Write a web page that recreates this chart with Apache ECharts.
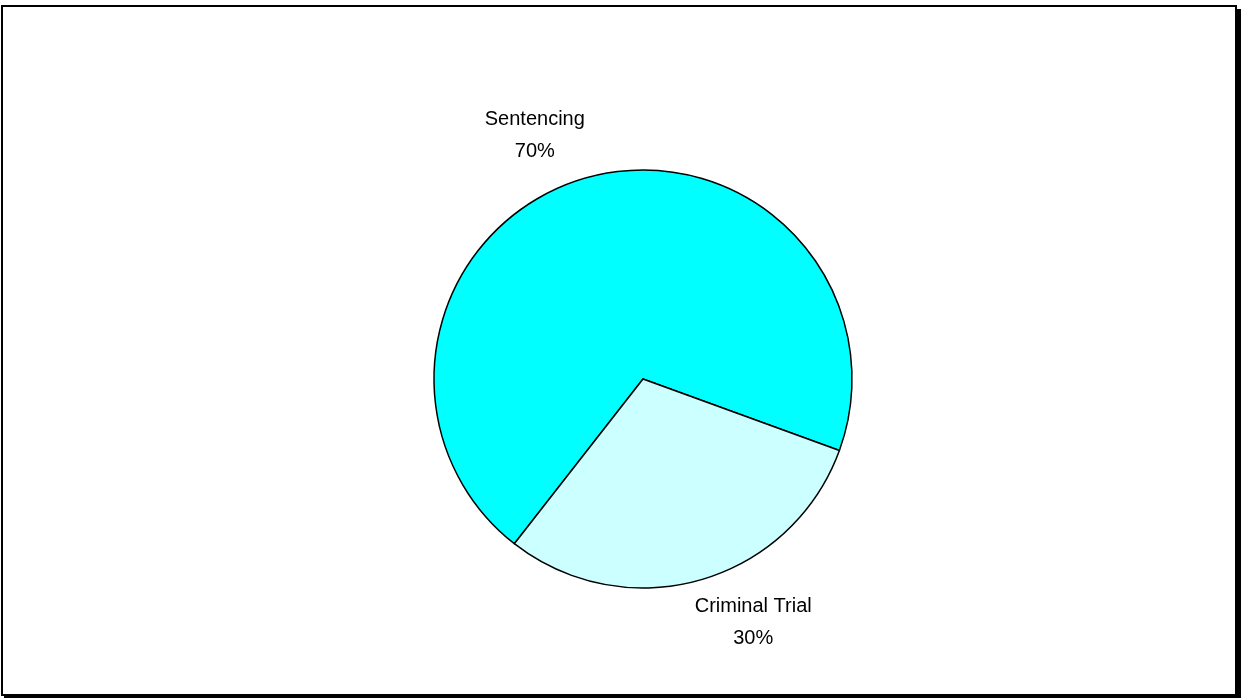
<!DOCTYPE html>
<html>
<head>
<meta charset="utf-8">
<script src="https://cdn.jsdelivr.net/npm/echarts@6/dist/echarts.min.js"></script>
<style>
  html, body { margin: 0; padding: 0; background: #fff; }
  #chart { width: 1241px; height: 698px; }
</style>
</head>
<body>
<div id="chart"></div>
<script>
// Share of cases by stage
const categories = ['Sentencing', 'Criminal Trial'];
const values = [70, 30];
const colors = ['#00FFFF', '#CCFFFF'];

// Nudges that place each label block relative to its slice
const labelNudge = [
  { dx: -31, dy: 8 },
  { dx: 33, dy: -8 }
];

const chart = echarts.init(document.getElementById('chart'));

chart.setOption({
  animation: false,
  backgroundColor: '#ffffff',
  graphic: [
    {
      type: 'rect',
      z: -10,
      shape: { x: 4, y: 9, width: 1237, height: 689 },
      style: { fill: '#000000' },
      silent: true
    },
    {
      type: 'rect',
      z: -9,
      shape: { x: 2, y: 6, width: 1234, height: 689 },
      style: { fill: '#ffffff', stroke: '#000000', lineWidth: 2 },
      silent: true
    }
  ],
  series: [
    {
      type: 'pie',
      z: 10,
      center: [643, 379],
      radius: 209,
      startAngle: 232,
      clockwise: true,
      avoidLabelOverlap: false,
      itemStyle: { borderColor: '#000000', borderWidth: 1.5 },
      label: {
        show: true,
        position: 'outside',
        color: '#000000',
        fontFamily: 'Liberation Sans, Arial, sans-serif',
        fontSize: 20,
        lineHeight: 32,
        formatter: p => p.name + '\n' + Math.round(p.percent) + '%'
      },
      labelLine: { show: false, length: 53, length2: 0 },
      labelLayout: p => ({
        align: 'center',
        verticalAlign: 'middle',
        dx: labelNudge[p.dataIndex].dx,
        dy: labelNudge[p.dataIndex].dy
      }),
      emphasis: { disabled: true },
      data: categories.map((name, i) => ({
        name,
        value: values[i],
        itemStyle: { color: colors[i] }
      }))
    }
  ]
});
</script>
</body>
</html>
